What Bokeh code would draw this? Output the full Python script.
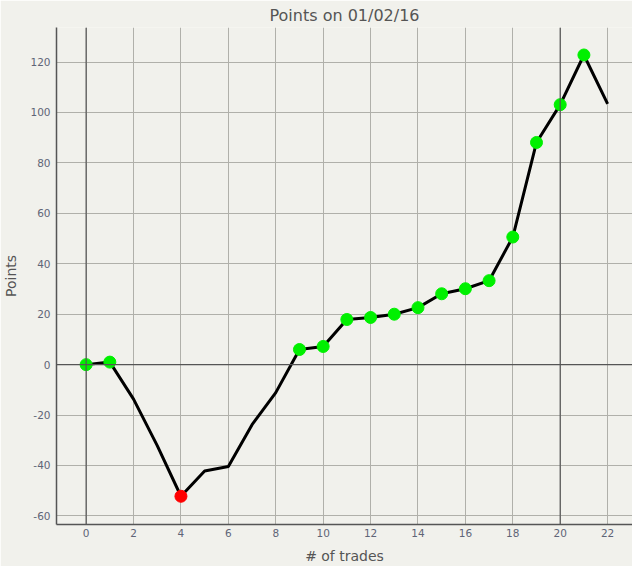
from bokeh.plotting import figure
from bokeh.models import Range1d, Span, FixedTicker
from bokeh.embed import file_html
from bokeh.resources import INLINE

trades = list(range(23))
points = [0, 1, -13.7, -32.1, -52.2, -42.2, -40.4, -23.8, -11.1, 6.0, 7.2,
          17.9, 18.7, 20.0, 22.6, 28.1, 30.1, 33.3, 50.6, 88.1, 103.1, 122.8, 103.4]
win_idx = [0, 1, 9, 10, 11, 12, 13, 14, 15, 16, 17, 18, 19, 20, 21]
loss_idx = [4]
x_ticks = list(range(0, 23, 2))
y_ticks = list(range(-60, 121, 20))
marker_line = 20

BG = "#f1f1ec"
FONT = "DejaVu Sans"

p = figure(width=632, height=566, output_backend="svg", toolbar_location=None,
           x_range=Range1d(-1.25, 23.05), y_range=Range1d(-63.4, 133.7),
           min_border_left=0, min_border_right=0, min_border_top=0, min_border_bottom=0,
           background_fill_color=BG, border_fill_color=BG)

p.title.text = "Points on 01/02/16"
p.title.align = "center"
p.title.text_font = FONT
p.title.text_font_size = "16px"
p.title.text_font_style = "normal"
p.title.text_color = "#555555"
p.title.standoff = 6

for ax in (p.xaxis[0], p.yaxis[0]):
    ax.major_tick_in = 0
    ax.major_tick_out = 0
    ax.minor_tick_in = 0
    ax.minor_tick_out = 0
    ax.axis_line_color = "#555555"
    ax.axis_line_width = 1.5
    ax.major_label_text_font = FONT
    ax.major_label_text_font_size = "10.5px"
    ax.major_label_text_color = "#5f6577"
    ax.axis_label_text_font = FONT
    ax.axis_label_text_font_size = "14px"
    ax.axis_label_text_font_style = "normal"
    ax.axis_label_text_color = "#555555"

p.xaxis.ticker = FixedTicker(ticks=x_ticks)
p.yaxis.ticker = FixedTicker(ticks=y_ticks)
p.yaxis.major_label_overrides = {t: str(t) for t in y_ticks}
p.xaxis.major_label_overrides = {t: str(t) for t in x_ticks}
p.xaxis.axis_label = "# of trades"
p.yaxis.axis_label = "Points"
p.xaxis.major_label_standoff = 4
p.yaxis.major_label_standoff = 6
p.xaxis.axis_label_standoff = 8
p.yaxis.axis_label_standoff = 8

p.xgrid.grid_line_color = "#b0b0aa"
p.ygrid.grid_line_color = "#b0b0aa"
p.outline_line_color = None

p.add_layout(Span(location=0, dimension="width", line_color="#555555", line_width=1.2))
p.add_layout(Span(location=0, dimension="height", line_color="#555555", line_width=1.2))
p.add_layout(Span(location=marker_line, dimension="height", line_color="#555555", line_width=1.2))

p.line(trades, points, line_color="black", line_width=3)
p.scatter([trades[i] for i in win_idx], [points[i] for i in win_idx],
          size=12, fill_color="#00f000", line_color="#00f000")
p.scatter([trades[i] for i in loss_idx], [points[i] for i in loss_idx],
          size=12, fill_color="#ff0000", line_color="#ff0000")

open("out.html", "w").write(file_html(p, INLINE))
